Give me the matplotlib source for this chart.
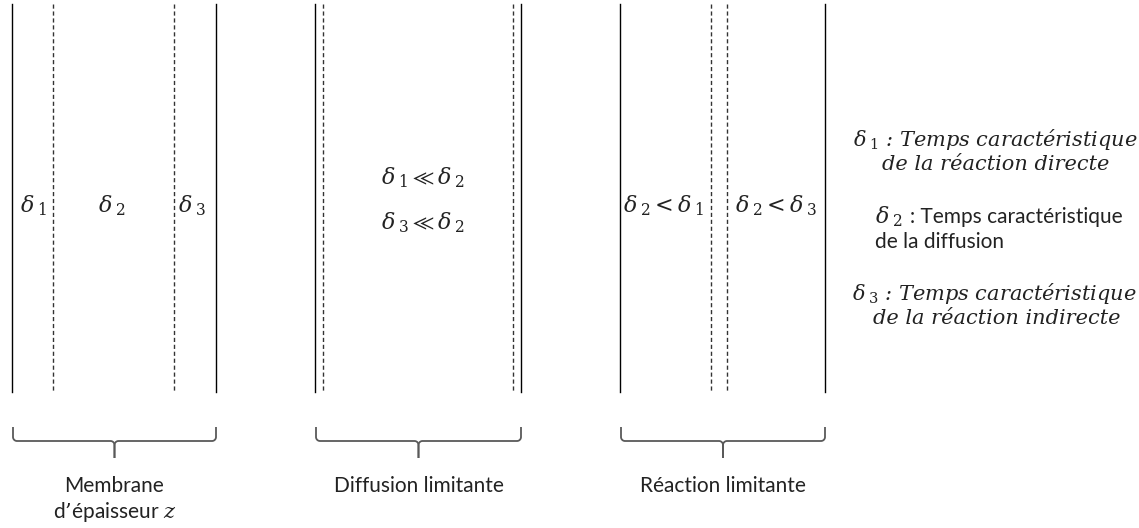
import matplotlib.pyplot as plt
import numpy as np

plt.rcParams["mathtext.fontset"] = "dejavuserif"

W, H = 1139, 528

# panel geometry (pixels)
SOLID_X = [(12, 216), (315, 521), (620, 825)]
DASHED_X = [(53, 174), (323, 513), (711, 727)]
LINE_TOP, LINE_BOTTOM = 4, 392

BRACE_TOP, BRACE_MID, BRACE_TIP = 427, 441, 458

PANEL_LABELS = ["Membrane\nd\u2019épaisseur $z$", "Diffusion limitante", "Réaction limitante"]

# text inside the panels: (x, y, text)
INNER_TEXT = [
    (33, 206, r"$\delta\,{}_{1}$"),
    (112, 206, r"$\delta\,{}_{2}$"),
    (192, 206, r"$\delta\,{}_{3}$"),
    (423, 178, r"$\delta\,{}_{1} \ll \delta\,{}_{2}$"),
    (423, 223, r"$\delta\,{}_{3} \ll \delta\,{}_{2}$"),
    (664, 206, r"$\delta\,{}_{2} < \delta\,{}_{1}$"),
    (776, 206, r"$\delta\,{}_{2} < \delta\,{}_{3}$"),
]

LEGEND_ITALIC = [
    (995, 140, r"$\delta\,{}_{1}$ : Temps caractéristique"),
    (996, 164, "de la réaction directe"),
    (994, 293, r"$\delta\,{}_{3}$ : Temps caractéristique"),
    (997, 318, "de la réaction indirecte"),
]

SANS = "Lato"
INK = "#222222"


def brace(ax, x0, x1, r=4):
    xc = 0.5 * (x0 + x1)
    t = np.linspace(0, np.pi / 2, 10)
    lx = np.concatenate([[x0], x0 + r - r * np.cos(t), [xc - r], xc - r + r * np.sin(t), [xc]])
    ly = np.concatenate([[BRACE_TOP], BRACE_MID - r + r * np.sin(t), [BRACE_MID],
                         BRACE_MID + r - r * np.cos(t), [BRACE_TIP]])
    rx = 2 * xc - lx
    ax.plot(lx, ly, color="#595959", lw=1.3, solid_capstyle="butt")
    ax.plot(rx, ly, color="#595959", lw=1.3, solid_capstyle="butt")
    return xc


fig = plt.figure(figsize=(W / 100, H / 100), dpi=100)
ax = fig.add_axes([0, 0, 1, 1])
ax.set_xlim(0, W)
ax.set_ylim(H, 0)
ax.set_axis_off()

for (a, b), (c, d), label in zip(SOLID_X, DASHED_X, PANEL_LABELS):
    for x in (a, b):
        ax.plot([x, x], [LINE_TOP, LINE_BOTTOM], color="black", lw=1.0)
    for x in (c, d):
        ax.plot([x, x], [LINE_TOP, LINE_BOTTOM], color="#333333", lw=1.0,
                linestyle=(0, (3, 2)))
    xc = brace(ax, a + 1, b)
    ax.text(xc, 476, label, ha="center", va="top", fontsize=15, family=SANS,
            color=INK, linespacing=1.25)

for x, y, s in INNER_TEXT:
    ax.text(x, y, s, ha="center", va="center", fontsize=16, color=INK)

# legend on the right
for x, y, s in LEGEND_ITALIC:
    ax.text(x, y, s, ha="center", va="center", fontsize=15, family="DejaVu Serif",
            style="italic", color=INK)
ax.text(875, 217, r"$\delta\,{}_{2}$", ha="left", va="center", fontsize=16, color=INK)
ax.text(910, 217, ": Temps caractéristique", ha="left", va="center", fontsize=15,
        family=SANS, color=INK)
ax.text(875, 242, "de la diffusion", ha="left", va="center", fontsize=15,
        family=SANS, color=INK)

fig.savefig("out.png", dpi=100)
